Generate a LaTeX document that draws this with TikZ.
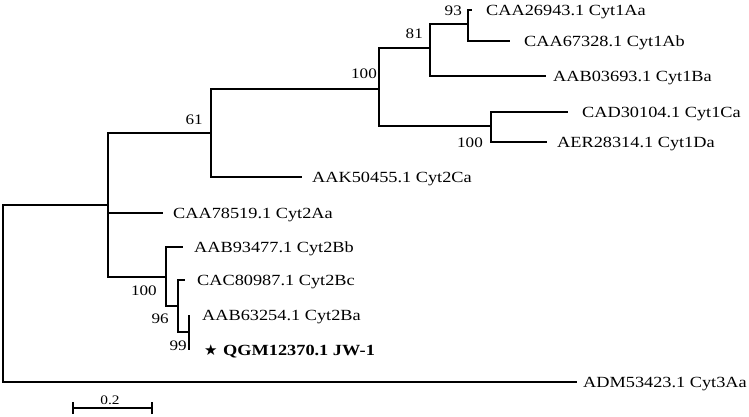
\documentclass[tikz,border=0pt]{standalone}
\usepackage{fontspec}
\setmainfont{Liberation Serif}
\newfontfamily\symfont{DejaVu Sans}
\newcommand\sx[1]{\scalebox{1.18}[1]{#1}}
\begin{document}
\begin{tikzpicture}[x=1pt,y=-1pt,
  br/.style={line width=1.1pt},
  leaf/.style={anchor=base west, inner sep=0pt, font=\fontsize{15.5}{18}\selectfont},
  boot/.style={anchor=base east, inner sep=0pt, font=\fontsize{14.5}{17}\selectfont}]
\useasboundingbox (0,0) rectangle (749,416);
% internal nodes
\coordinate (root) at (3,293);
\coordinate (A) at (108,205);
\coordinate (n61) at (211,133);
\coordinate (n100a) at (379,89);
\coordinate (n81) at (430,48);
\coordinate (n93) at (468,24);
\coordinate (n100b) at (491,126);
\coordinate (B) at (166,277);
\coordinate (n96) at (178,306);
\coordinate (n99) at (189,332);
% tips
\coordinate (tCAA26943) at (472,10);
\coordinate (tCAA67328) at (510,41);
\coordinate (tAAB03693) at (546,76);
\coordinate (tCAD30104) at (568,112);
\coordinate (tAER28314) at (547,142);
\coordinate (tAAK50455) at (302,177);
\coordinate (tCAA78519) at (163,213);
\coordinate (tAAB93477) at (183,247);
\coordinate (tCAC80987) at (185,280);
\coordinate (tAAB63254) at (189,315);
\coordinate (tQGM12370) at (189,350);
\coordinate (tADM53423) at (577,382);
% branches
\draw[br] (root) |- (A);
\draw[br] (root) |- (tADM53423);
\draw[br] (A) |- (n61);
\draw[br] (A) |- (tCAA78519);
\draw[br] (A) |- (B);
\draw[br] (n61) |- (n100a);
\draw[br] (n61) |- (tAAK50455);
\draw[br] (n100a) |- (n81);
\draw[br] (n100a) |- (n100b);
\draw[br] (n81) |- (n93);
\draw[br] (n81) |- (tAAB03693);
\draw[br] (n93) |- (tCAA26943);
\draw[br] (n93) |- (tCAA67328);
\draw[br] (n100b) |- (tCAD30104);
\draw[br] (n100b) |- (tAER28314);
\draw[br] (B) |- (tAAB93477);
\draw[br] (B) |- (n96);
\draw[br] (n96) |- (tCAC80987);
\draw[br] (n96) |- (n99);
\draw[br] (n99) |- (tAAB63254);
\draw[br] (n99) |- (tQGM12370);
% leaf labels
\node[leaf] (lCAA26943) at (486,15.5) {\sx{CAA26943.1 Cyt1Aa}};
\node[leaf] (lCAA67328) at (524,46.5) {\sx{CAA67328.1 Cyt1Ab}};
\node[leaf] (lAAB03693) at (553,81.5) {\sx{AAB03693.1 Cyt1Ba}};
\node[leaf] (lCAD30104) at (582,117.5) {\sx{CAD30104.1 Cyt1Ca}};
\node[leaf] (lAER28314) at (557,147.5) {\sx{AER28314.1 Cyt1Da}};
\node[leaf] (lAAK50455) at (312,182.5) {\sx{AAK50455.1 Cyt2Ca}};
\node[leaf] (lCAA78519) at (173,218.5) {\sx{CAA78519.1 Cyt2Aa}};
\node[leaf] (lAAB93477) at (194,252.5) {\sx{AAB93477.1 Cyt2Bb}};
\node[leaf] (lCAC80987) at (197,285.5) {\sx{CAC80987.1 Cyt2Bc}};
\node[leaf] (lAAB63254) at (202,320.5) {\sx{AAB63254.1 Cyt2Ba}};
\node[anchor=base west, inner sep=0pt, font=\symfont\fontsize{15}{17}\selectfont] (star) at (204,355.5) {★};
\node[leaf, font=\fontsize{15.5}{18}\selectfont\bfseries] (lQGM12370) at (223,355.5) {\sx{QGM12370.1 JW-1}};
\node[leaf] (lADM53423) at (583,387.5) {\sx{ADM53423.1 Cyt3Aa}};
% bootstrap values
\node[boot] (b93) at (462,15) {\sx{93}};
\node[boot] (b81) at (423,38) {\sx{81}};
\node[boot] (b100a) at (377,78) {\sx{100}};
\node[boot] (b61) at (203,124) {\sx{61}};
\node[boot] (b100b) at (483,147) {\sx{100}};
\node[boot] (b100c) at (157,295) {\sx{100}};
\node[boot] (b96) at (169,323) {\sx{96}};
\node[boot] (b99) at (187,350) {\sx{99}};
% scale bar
\coordinate (s1) at (73,408);
\coordinate (s2) at (152,408);
\draw[br] (s1) -- (s2);
\draw[br] ([yshift=-6pt]s1) -- ([yshift=6pt]s1);
\draw[br] ([yshift=-6pt]s2) -- ([yshift=6pt]s2);
\node[anchor=base, inner sep=0pt, font=\fontsize{13}{15}\selectfont] (scl) at (110,404) {\sx{0.2}};
\end{tikzpicture}
\end{document}
